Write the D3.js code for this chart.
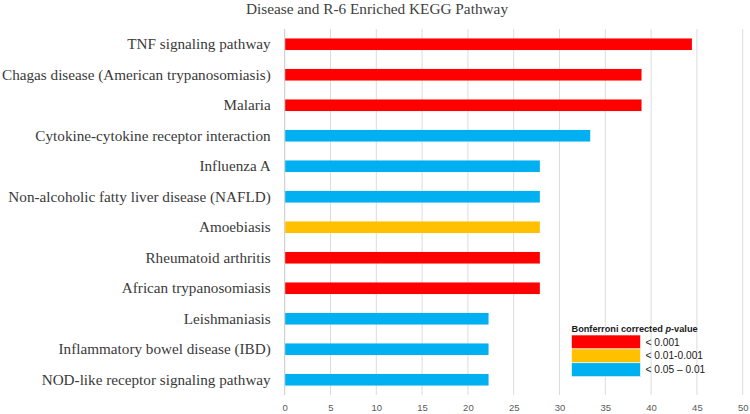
<!DOCTYPE html>
<html>
<head>
<meta charset="utf-8">
<script src="https://cdn.jsdelivr.net/npm/d3@7"></script>
<style>
  body { margin: 0; background: #fff; }
  svg { display: block; }
</style>
</head>
<body>
<svg id="chart" width="750" height="414"></svg>
<script>
const categories = [
  "TNF signaling pathway",
  "Chagas disease (American trypanosomiasis)",
  "Malaria",
  "Cytokine-cytokine receptor interaction",
  "Influenza A",
  "Non-alcoholic fatty liver disease (NAFLD)",
  "Amoebiasis",
  "Rheumatoid arthritis",
  "African trypanosomiasis",
  "Leishmaniasis",
  "Inflammatory bowel disease (IBD)",
  "NOD-like receptor signaling pathway"
];
const values = [44.4, 38.9, 38.9, 33.3, 27.8, 27.8, 27.8, 27.8, 27.8, 22.2, 22.2, 22.2];
const pGroups = [0, 0, 0, 2, 2, 2, 1, 0, 0, 2, 2, 2];
const legendLabels = ["< 0.001", "< 0.01-0.001", "< 0.05 \u2013 0.01"];
const groupColors = ["#FF0000", "#FFC000", "#00B0F0"];
const xTicks = [0, 5, 10, 15, 20, 25, 30, 35, 40, 45, 50];
const chartTitle = "Disease and R-6 Enriched KEGG Pathway";

const svg = d3.select("#chart");
const mLeft = 284.7, mRight = 742.7, mTop = 29, mBottom = 395;

const x = d3.scaleLinear().domain([0, 50]).range([mLeft, mRight]);
const y = d3.scaleBand().domain(categories).range([mTop, mBottom]).paddingInner(0.62).paddingOuter(0.31);

// title
svg.append("text")
  .attr("x", 377).attr("y", 14)
  .attr("text-anchor", "middle")
  .attr("font-family", "'Liberation Serif', 'Times New Roman', serif")
  .attr("font-size", 15.3)
  .attr("fill", "#404040")
  .text(chartTitle);

// gridlines
svg.append("g").selectAll("line")
  .data(xTicks)
  .join("line")
  .attr("x1", d => x(d)).attr("x2", d => x(d))
  .attr("y1", mTop).attr("y2", mBottom)
  .attr("stroke", d => d === 0 ? "#c8c8c8" : "#dcdcdc")
  .attr("stroke-width", 1);

// x tick labels via axis
const xAxis = d3.axisBottom(x).tickValues(xTicks).tickSize(0).tickPadding(0);
const gx = svg.append("g").attr("transform", `translate(0,${mBottom + 1})`).call(xAxis);
gx.select(".domain").remove();
gx.selectAll("text")
  .attr("dy", "0")
  .attr("y", 15)
  .attr("font-family", "'Liberation Sans', Arial, sans-serif")
  .attr("font-size", 9.5)
  .attr("fill", "#595959");

// bars
svg.append("g").selectAll("rect")
  .data(categories)
  .join("rect")
  .attr("x", x(0) + 0.5)
  .attr("y", d => y(d))
  .attr("width", (d, i) => x(values[i]) - x(0))
  .attr("height", y.bandwidth())
  .attr("fill", (d, i) => groupColors[pGroups[i]]);

// y labels
const yAxis = d3.axisLeft(y).tickSize(0).tickPadding(0);
const gy = svg.append("g").attr("transform", `translate(${mLeft - 14},0)`).call(yAxis);
gy.select(".domain").remove();
gy.selectAll("text")
  .attr("font-family", "'Liberation Serif', 'Times New Roman', serif")
  .attr("font-size", 15.2)
  .attr("fill", "#3a3a3a");

// legend
const lx = 571.5, ly = 335, sw = 69, sh = 13.9;
svg.append("text")
  .attr("x", lx).attr("y", 331.5)
  .attr("font-family", "'Liberation Sans', Arial, sans-serif")
  .attr("font-size", 9.2)
  .attr("font-weight", "bold")
  .attr("fill", "#1a1a1a")
  .call(t => {
    t.append("tspan").text("Bonferroni corrected ");
    t.append("tspan").attr("font-style", "italic").text("p");
    t.append("tspan").text("-value");
  });
const lg = svg.append("g");
lg.selectAll("rect")
  .data(legendLabels)
  .join("rect")
  .attr("x", lx).attr("y", (d, i) => ly + i * sh)
  .attr("width", sw).attr("height", sh)
  .attr("fill", (d, i) => groupColors[i])
  .attr("stroke", "#ffffff").attr("stroke-width", 0.6);
lg.selectAll("text")
  .data(legendLabels)
  .join("text")
  .attr("x", lx + sw + 5).attr("y", (d, i) => ly + i * sh + sh / 2 + 3.6)
  .attr("font-family", "'Liberation Sans', Arial, sans-serif")
  .attr("font-size", 10.2)
  .attr("fill", "#1a1a1a")
  .text(d => d);
</script>
</body>
</html>
